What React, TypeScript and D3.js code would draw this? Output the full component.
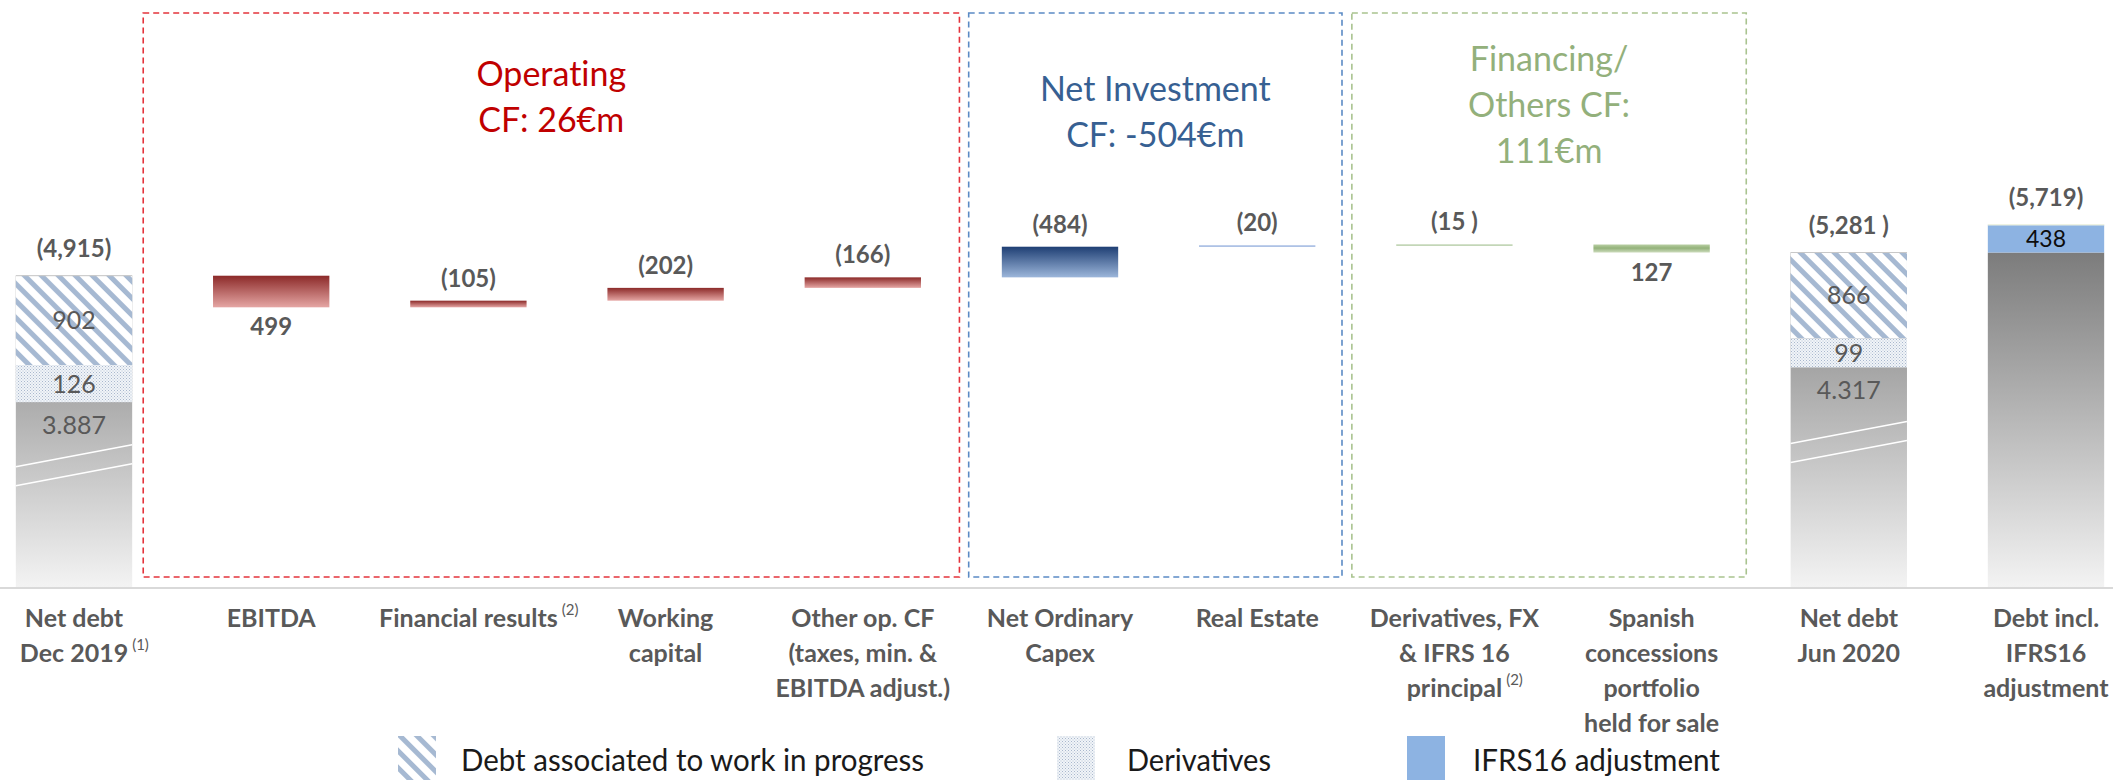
import React, { useEffect, useRef } from "react";
import * as d3 from "d3";

// ---------------- DATA ----------------
const categories = [
  "netDebtDec", "ebitda", "financial", "workingCapital", "otherOp",
  "capex", "realEstate", "derivativesFx", "spanish", "netDebtJun", "ifrs16",
];
const categoryLines: string[][] = [
  ["Net debt", "Dec 2019"],
  ["EBITDA"],
  ["Financial results"],
  ["Working", "capital"],
  ["Other op. CF", "(taxes, min. &", "EBITDA adjust.)"],
  ["Net Ordinary", "Capex"],
  ["Real Estate"],
  ["Derivatives, FX", "& IFRS 16", "principal"],
  ["Spanish", "concessions", "portfolio", "held for sale"],
  ["Net debt", "Jun 2020"],
  ["Debt incl.", "IFRS16", "adjustment"],
];
const categoryNotes = ["(1)", "", "(2)", "", "", "", "", "(2)", "", "", ""];

// waterfall flows (cash-flow impact, €m; positive reduces net debt)
const flowCategories = ["ebitda", "financial", "workingCapital", "otherOp", "capex", "realEstate", "derivativesFx", "spanish"];
const flowValues = [499, -105, -202, -166, -484, -20, -15, 127];
const flowLabels = ["499", "(105)", "(202)", "(166)", "(484)", "(20)", "(15 )", "127"];
const flowGroups = ["operating", "operating", "operating", "operating", "investment", "investment", "financing", "financing"];

// total bars
const totalCategories = ["netDebtDec", "netDebtJun", "ifrs16"];
const totalValues = [4915, 5281, 5719];
const totalLabels = ["(4,915)", "(5,281 )", "(5,719)"];
const wipValues = [902, 866, 0];
const derivativeValues = [126, 99, 0];
const coreLabels = ["3.887", "4.317", ""];
const ifrsAdjustment = [0, 0, 438];

// group boxes
const groupNames = ["operating", "investment", "financing"];
const groupTitles: string[][] = [["Operating", "CF: 26€m"], ["Net Investment", "CF: -504€m"], ["Financing/", "Others CF:", "111€m"]];
const groupColors = ["#c00000", "#376092", "#93b07b"];
const groupBorderColors = ["#e4333b", "#5b8bc5", "#a9c38f"];

// legend
const legendLabels = ["Debt associated to work in progress", "Derivatives", "IFRS16 adjustment"];

// ---------------- LAYOUT ----------------
const W = 2113;
const H = 780;
const FONT = "Lato, 'Open Sans', sans-serif";
const TXT = "#595959";

export default function App() {
  const ref = useRef<SVGSVGElement>(null);

  useEffect(() => {
    const svg = d3.select(ref.current);
    svg.selectAll("*").remove();

    const x = d3.scalePoint<string>().domain(categories).range([74, 2046]);
    const step = x.step();
    const bw = step * 0.59;
    const y = d3.scaleLinear().domain([0, 6000]).range([587, 207]);
    const wipScale = d3.scaleLinear().domain([0, 1000]).range([0, 99]);
    const derivScale = d3.scaleLinear().domain([0, 100]).range([0, 29.5]);

    const defs = svg.append("defs");
    const grad = (id: string, stops: [number, string][]) => {
      const g = defs.append("linearGradient").attr("id", id).attr("x1", 0).attr("y1", 0).attr("x2", 0).attr("y2", 1);
      stops.forEach(([o, c]) => g.append("stop").attr("offset", o).attr("stop-color", c));
    };
    grad("grayGrad", [[0, "#7c7c7c"], [1, "#f3f3f3"]]);
    grad("operatingGrad", [[0, "#8c2a29"], [1, "#e5a6a4"]]);
    grad("investmentGrad", [[0, "#1f3f74"], [1, "#9cb6da"]]);
    grad("financingGrad", [[0, "#b9cfa4"], [0.45, "#93b27a"], [1, "#cddcbd"]]);

    const hatch = defs.append("pattern").attr("id", "hatch").attr("patternUnits", "userSpaceOnUse")
      .attr("width", 12).attr("height", 12).attr("patternTransform", "rotate(-45)");
    hatch.append("rect").attr("width", 12).attr("height", 12).attr("fill", "#ffffff");
    hatch.append("rect").attr("width", 5).attr("height", 12).attr("fill", "#a6b9d2");

    const dots = defs.append("pattern").attr("id", "dots").attr("patternUnits", "userSpaceOnUse")
      .attr("width", 3).attr("height", 3);
    dots.append("rect").attr("width", 3).attr("height", 3).attr("fill", "#f1f4f8");
    dots.append("rect").attr("width", 1).attr("height", 1).attr("fill", "#a9b8cd");
    dots.append("rect").attr("x", 1.5).attr("y", 1.5).attr("width", 1).attr("height", 1).attr("fill", "#b8c5d7");

    // group boxes
    const boxPad: Record<string, [number, number]> = {
      operating: [0.649, 0.49],
      investment: [0.463, 0.43],
      financing: [0.52, 0.48],
    };
    groupNames.forEach((g, gi) => {
      const cats = flowCategories.filter((_, i) => flowGroups[i] === g);
      const x0 = (x(cats[0]) as number) - boxPad[g][0] * step;
      const x1 = (x(cats[cats.length - 1]) as number) + boxPad[g][1] * step;
      svg.append("rect").attr("x", x0).attr("y", 13).attr("width", x1 - x0).attr("height", 564)
        .attr("fill", "none").attr("stroke", groupBorderColors[gi]).attr("stroke-width", 1.6)
        .attr("stroke-dasharray", "6,4");
      const cx = (x0 + x1) / 2;
      const firstBase = gi === 0 ? 86 : gi === 1 ? 101 : 71;
      groupTitles[gi].forEach((t, li) => {
        svg.append("text").attr("x", cx).attr("y", firstBase + li * 46).attr("text-anchor", "middle")
          .attr("font-family", FONT).attr("font-size", 34).attr("fill", groupColors[gi])
          .style("font-variant-ligatures", "none").text(t);
      });
    });

    // axis baseline
    svg.append("line").attr("x1", 0).attr("x2", W).attr("y1", 588).attr("y2", 588)
      .attr("stroke", "#d9d9d9").attr("stroke-width", 2);

    // total bars
    totalCategories.forEach((c, i) => {
      const cx = x(c) as number;
      const x0 = cx - bw / 2;
      const core = totalValues[i] - ifrsAdjustment[i];
      svg.append("rect").attr("x", x0).attr("width", bw).attr("y", y(core)).attr("height", y(0) - y(core))
        .attr("fill", "url(#grayGrad)");
      const top = y(totalValues[i]);
      if (ifrsAdjustment[i] > 0) {
        svg.append("rect").attr("x", x0).attr("width", bw).attr("y", top).attr("height", y(core) - top)
          .attr("fill", "#8db3e2");
        svg.append("line").attr("x1", x0).attr("x2", x0 + bw).attr("y1", top).attr("y2", top)
          .attr("stroke", "#eef2e2").attr("stroke-width", 1.5);
        svg.append("text").attr("x", cx).attr("y", (top + y(core)) / 2 + 8).attr("text-anchor", "middle")
          .attr("font-family", FONT).attr("font-size", 23).attr("fill", "#0d0d0d").text(String(ifrsAdjustment[i]));
      }
      if (wipValues[i] > 0) {
        const hH = wipScale(wipValues[i]);
        const dH = derivScale(derivativeValues[i]);
        svg.append("rect").attr("x", x0).attr("width", bw).attr("y", top).attr("height", hH).attr("fill", "url(#hatch)");
        svg.append("line").attr("x1", x0).attr("x2", x0 + bw).attr("y1", top).attr("y2", top)
          .attr("stroke", "#c8c8c8").attr("stroke-width", 1);
        svg.append("rect").attr("x", x0).attr("width", bw).attr("y", top + hH).attr("height", dH).attr("fill", "url(#dots)");
        const seg = (txt: string, yy: number) =>
          svg.append("text").attr("x", cx).attr("y", yy).attr("text-anchor", "middle")
            .attr("font-family", FONT).attr("font-size", 25).attr("fill", TXT).text(txt);
        seg(String(wipValues[i]), top + hH / 2 + 9);
        seg(String(derivativeValues[i]), top + hH + dH / 2 + 9);
        seg(coreLabels[i], top + hH + dH + 32);
        // axis-break marks
        const mid = top + 180;
        [0, 19].forEach((off) => {
          svg.append("line").attr("x1", x0).attr("x2", x0 + bw).attr("y1", mid + off + 11).attr("y2", mid + off - 11)
            .attr("stroke", "#ffffff").attr("stroke-width", 1.6);
        });
      }
      svg.append("text").attr("x", cx).attr("y", top - 19).attr("text-anchor", "middle")
        .attr("font-family", FONT).attr("font-size", 24).attr("font-weight", 700).attr("fill", TXT)
        .text(totalLabels[i]);
    });

    // waterfall flows
    let debt = totalValues[0];
    flowCategories.forEach((c, i) => {
      const after = debt - flowValues[i];
      const cx = x(c) as number;
      const yTop = y(Math.max(debt, after));
      const yBot = y(Math.min(debt, after));
      const h = Math.max(1.2, yBot - yTop);
      const g = flowGroups[i];
      let fill = `url(#${g}Grad)`;
      if (h < 3) fill = g === "investment" ? "#8eaadb" : "#a9c498";
      svg.append("rect").attr("x", cx - bw / 2).attr("width", bw).attr("y", yTop).attr("height", h).attr("fill", fill);
      const below = flowValues[i] > 0;
      svg.append("text").attr("x", cx).attr("y", below ? yTop + h + 28 : yTop - 14).attr("text-anchor", "middle")
        .attr("font-family", FONT).attr("font-size", 24).attr("font-weight", 700).attr("fill", TXT)
        .text(flowLabels[i]);
      debt = after;
    });

    // category labels
    categories.forEach((c, i) => {
      const cx = x(c) as number;
      const lines = categoryLines[i];
      lines.forEach((ln, li) => {
        const t = svg.append("text").attr("x", cx).attr("y", 627 + li * 35).attr("text-anchor", "middle")
          .attr("font-family", FONT).attr("font-size", 25).attr("font-weight", 700).attr("fill", TXT).text(ln);
        if (li === lines.length - 1 && categoryNotes[i]) {
          const w = (t.node() as SVGTextElement).getComputedTextLength();
          svg.append("text").attr("x", cx + w / 2 + 4).attr("y", 627 + li * 35 - 12)
            .attr("font-family", FONT).attr("font-size", 15).attr("fill", TXT).text(categoryNotes[i]);
        }
      });
    });

    // legend
    const legendSwatchX = [398, 1057, 1407];
    const legendTextX = [461, 1127, 1473];
    const legendTextW = [463, 144, 247];
    const legendFills = ["url(#hatch)", "url(#dots)", "#8db3e2"];
    legendLabels.forEach((l, i) => {
      svg.append("rect").attr("x", legendSwatchX[i]).attr("y", 736).attr("width", 38).attr("height", 44)
        .attr("fill", legendFills[i]);
      svg.append("text").attr("x", legendTextX[i]).attr("y", 771).attr("font-family", FONT)
        .attr("font-size", 30).attr("fill", "#1a1a1a").attr("textLength", legendTextW[i])
        .attr("lengthAdjust", "spacingAndGlyphs").text(l);
    });
  }, []);

  return (
    <svg ref={ref} width={W} height={H}
      style={{ position: "absolute", left: 0, top: 0, background: "#ffffff", display: "block" }} />
  );
}
